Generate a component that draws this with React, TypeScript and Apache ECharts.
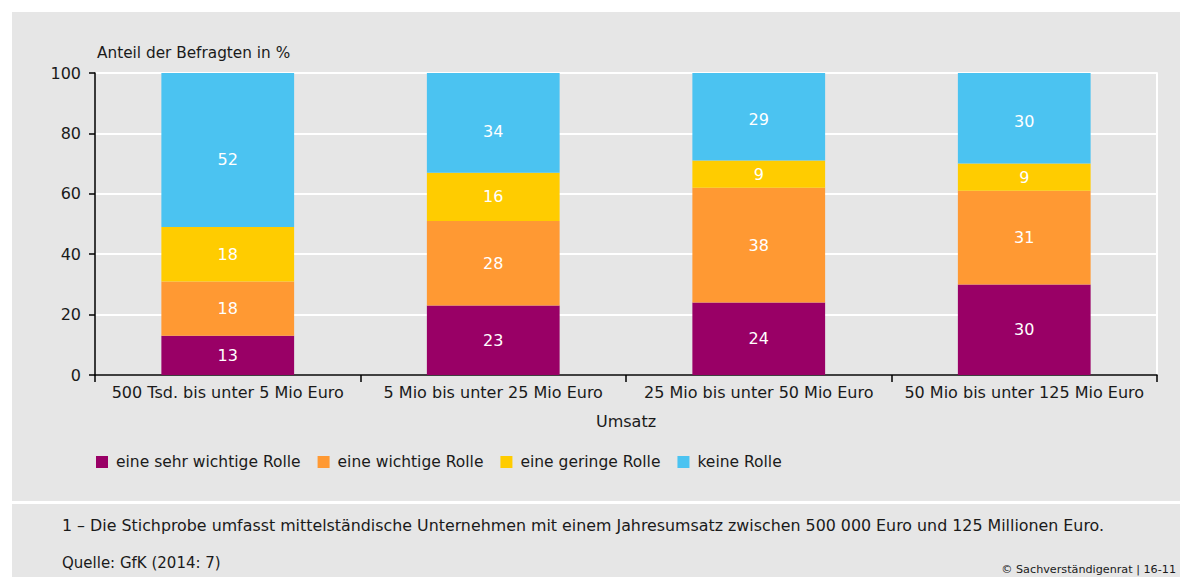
import React, { useEffect, useRef } from "react";
import * as echarts from "echarts";

const categories = [
  "500 Tsd. bis unter 5 Mio Euro",
  "5 Mio bis unter 25 Mio Euro",
  "25 Mio bis unter 50 Mio Euro",
  "50 Mio bis unter 125 Mio Euro",
];
const sehrWichtig = [13, 23, 24, 30];
const wichtig = [18, 28, 38, 31];
const gering = [18, 16, 9, 9];
const keine = [52, 34, 29, 30];
const yTicks = [0, 20, 40, 60, 80, 100];

const seriesNames = ["eine sehr wichtige Rolle", "eine wichtige Rolle", "eine geringe Rolle", "keine Rolle"];
const colors = ["#990066", "#FF9933", "#FFCC00", "#4BC3F1"];

const FONT = "'DejaVu Sans', Verdana, sans-serif";

export default function App() {
  const ref = useRef<HTMLDivElement>(null);
  useEffect(() => {
    if (!ref.current) return;
    const chart = echarts.init(ref.current, undefined, { renderer: "svg" });
    const all = [sehrWichtig, wichtig, gering, keine];
    const totals = categories.map((_, i) => all.reduce((s, a) => s + a[i], 0));
    const series = all.map((vals, si) => ({
      name: seriesNames[si],
      type: "bar",
      stack: "total",
      barWidth: "50%",
      itemStyle: { color: colors[si] },
      data: vals.map((v, i) => {
        const item: any = { value: v };
        if (si === all.length - 1) {
          item.label = { offset: [0, totals[i] > 100 ? 9 : 3] };
        }
        return item;
      }),
      label: {
        show: true,
        position: "inside",
        color: "#fff",
        fontSize: 16,
        fontFamily: FONT,
      },
    }));
    chart.setOption({
      animation: false,
      backgroundColor: "transparent",
      textStyle: { fontFamily: FONT },
      grid: { left: 95, right: 23, top: 73, bottom: 202, containLabel: false },
      legend: {
        left: 96,
        top: 454,
        padding: 0,
        itemWidth: 12,
        itemHeight: 12,
        itemGap: 17,
        icon: "rect",
        textStyle: { fontSize: 15.5, color: "#1a1a1a", fontFamily: FONT, padding: [0, 0, 0, 3] },
        data: seriesNames,
      },
      xAxis: {
        type: "category",
        data: categories,
        name: "Umsatz",
        nameLocation: "middle",
        nameGap: 38,
        nameTextStyle: { fontSize: 16, color: "#1a1a1a", fontFamily: FONT },
        axisLine: { lineStyle: { color: "#000", width: 1.5 } },
        axisTick: { show: true, length: 7, lineStyle: { color: "#000", width: 1.5 } },
        axisLabel: { fontSize: 16, color: "#1a1a1a", margin: 9, interval: 0, fontFamily: FONT },
      },
      yAxis: [
        {
          type: "value",
          min: 0,
          max: 100,
          interval: 20,
          axisLine: { show: true, lineStyle: { color: "#000", width: 1.5 } },
          axisTick: { show: true, length: 6, lineStyle: { color: "#000", width: 1.5 } },
          axisLabel: {
            fontSize: 16,
            color: "#1a1a1a",
            margin: 14,
            fontFamily: FONT,
            formatter: (v: number) => (yTicks.includes(v) ? String(v) : ""),
          },
          splitLine: { show: true, lineStyle: { color: "#fff", width: 2 } },
        },
        {
          type: "value",
          position: "right",
          min: 0,
          max: 100,
          interval: 20,
          axisLine: { show: true, lineStyle: { color: "#fff", width: 2 } },
          axisTick: { show: false },
          axisLabel: { show: false },
          splitLine: { show: false },
        },
      ],
      graphic: [
        {
          type: "text",
          left: 97,
          top: 45,
          style: { text: "Anteil der Befragten in %", fontSize: 15.3, fill: "#1a1a1a", fontFamily: FONT },
        },
        {
          type: "text",
          left: 62,
          top: 517,
          style: {
            text: "1 – Die Stichprobe umfasst mittelständische Unternehmen mit einem Jahresumsatz zwischen 500 000 Euro und 125 Millionen Euro.",
            fontSize: 15.85,
            fill: "#1a1a1a",
            fontFamily: FONT,
          },
        },
        {
          type: "text",
          left: 62,
          top: 555,
          style: { text: "Quelle: GfK (2014: 7)", fontSize: 15, fill: "#1a1a1a", fontFamily: FONT },
        },
        {
          type: "text",
          right: 4,
          top: 564,
          style: { text: "© Sachverständigenrat | 16-11", fontSize: 11.2, fill: "#1a1a1a", fontFamily: FONT },
        },
      ],
      series,
    });
    return () => chart.dispose();
  }, []);
  return (
    <div style={{ position: "fixed", left: 0, top: 0, width: 1180, height: 577, background: "#fff", overflow: "hidden" }}>
      <div style={{ position: "absolute", left: 12, top: 12, width: 1168, height: 489, background: "#E6E6E6" }} />
      <div style={{ position: "absolute", left: 12, top: 504, width: 1168, height: 73, background: "#E6E6E6" }} />
      <div ref={ref} style={{ position: "absolute", left: 0, top: 0, width: 1180, height: 577 }} />
    </div>
  );
}
